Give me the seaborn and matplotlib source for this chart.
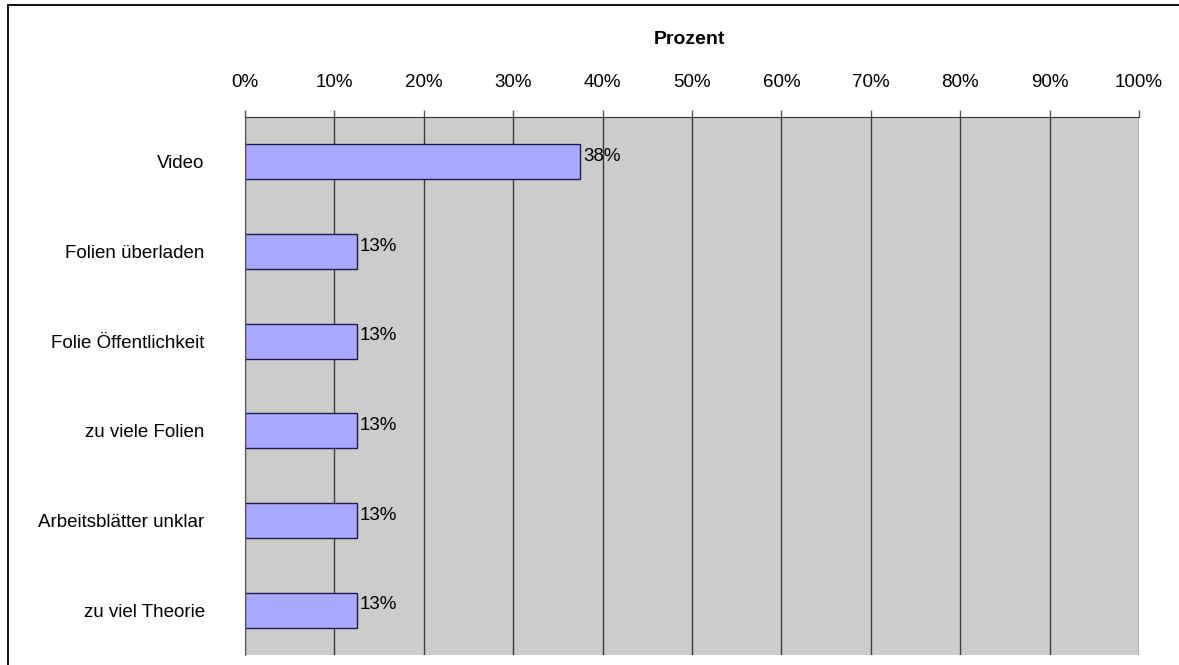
import math
import matplotlib
matplotlib.use('Agg')
import matplotlib.pyplot as plt
import seaborn as sns
import pandas as pd
from matplotlib.patches import Rectangle
from matplotlib.ticker import FixedLocator

categories = ['Video', 'Folien überladen', 'Folie Öffentlichkeit',
              'zu viele Folien', 'Arbeitsblätter unklar', 'zu viel Theorie']
percent = [37.5, 12.5, 12.5, 12.5, 12.5, 12.5]
x_ticks = [0, 10, 20, 30, 40, 50, 60, 70, 80, 90, 100]

df = pd.DataFrame({'Kategorie': categories, 'Prozent': percent})

sns.set_style('white')
plt.rcParams['font.family'] = ['Liberation Sans', 'DejaVu Sans']
plt.rcParams['text.color'] = 'black'
plt.rcParams['xtick.labelcolor'] = 'black'
plt.rcParams['ytick.labelcolor'] = 'black'

W, H = 1179, 665
fig = plt.figure(figsize=(W / 100, H / 100), dpi=100)
ax = fig.add_axes([245 / W, 1 - 655 / H, (1139 - 245) / W, (655 - 117) / H])
ax.set_facecolor('#cccccc')

sns.barplot(data=df, x='Prozent', y='Kategorie', orient='h', color='#a9aaff',
            edgecolor='#1c1c50', linewidth=1, width=0.39, saturation=1, ax=ax)

ax.set_xlim(0, 100)
ax.set_ylim(len(categories) - 0.5, -0.5)
ax.xaxis.tick_top()
ax.set_xticks(x_ticks)
ax.set_xticklabels([f'{t}%' for t in x_ticks], fontsize=13.5)
ax.tick_params(axis='x', direction='out', length=5, width=1, color='#555555', pad=14)
ax.grid(axis='x', color='#3a3a3a', linewidth=1)
ax.set_axisbelow(True)

# category labels at band centres, tick marks at band boundaries
ax.tick_params(axis='y', which='major', length=0, pad=29, labelsize=13.5)
ax.yaxis.set_minor_locator(FixedLocator([i - 0.5 for i in range(len(categories) + 1)]))
ax.tick_params(axis='y', which='minor', direction='out', length=5, width=1, color='#555555')

ax.set_xlabel('')
ax.set_ylabel('')
for s in ['bottom', 'right']:
    ax.spines[s].set_visible(False)
ax.spines['left'].set_color('#555555')
ax.spines['top'].set_color('#333333')

for i, v in enumerate(percent):
    ax.text(v + 0.3, i - 0.06, f'{math.floor(v + 0.5)}%', va='center', ha='left', fontsize=13.5)

fig.text(689 / W, 1 - 39 / H, 'Prozent', ha='center', va='center', fontsize=14, fontweight='bold')

# outer chart frame (cropped on the right and bottom)
fig.patches.append(Rectangle((8 / W, -0.1), 1.2, 1 - 5 / H + 0.1, transform=fig.transFigure,
                             fill=False, edgecolor='black', linewidth=1.3))

fig.savefig('out.png', dpi=100)
